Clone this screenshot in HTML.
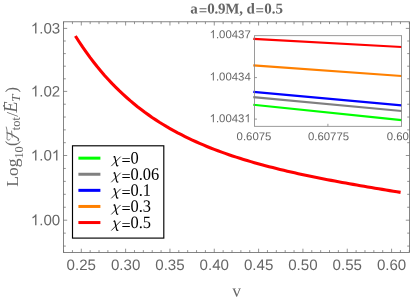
<!DOCTYPE html>
<html><head><meta charset="utf-8"><title>plot</title><style>html,body{margin:0;padding:0;background:#fff}body{width:415px;height:301px;overflow:hidden;position:relative;font-family:"Liberation Sans",sans-serif}</style></head><body>
<svg width="415" height="301" viewBox="0 0 415 301" style="position:absolute;left:0;top:0;will-change:transform">
<rect width="415" height="301" fill="#fff"/>
<path d="M75.4,36.02 L79.1,41.72 L82.7,47.18 L86.4,52.41 L90.0,57.42 L93.7,62.21 L97.3,66.81 L101.0,71.22 L104.6,75.44 L108.3,79.50 L111.9,83.39 L115.6,87.13 L119.2,90.72 L122.9,94.17 L126.6,97.48 L130.2,100.67 L133.9,103.73 L137.5,106.68 L141.2,109.52 L144.8,112.25 L148.5,114.88 L152.1,117.42 L155.8,119.86 L159.4,122.22 L163.1,124.49 L166.7,126.68 L170.4,128.80 L174.1,130.84 L177.7,132.82 L181.4,134.73 L185.0,136.57 L188.7,138.36 L192.3,140.08 L196.0,141.76 L199.6,143.37 L203.3,144.94 L206.9,146.46 L210.6,147.94 L214.2,149.37 L217.9,150.75 L221.6,152.10 L225.2,153.41 L228.9,154.68 L232.5,155.92 L236.2,157.12 L239.8,158.29 L243.5,159.43 L247.1,160.54 L250.8,161.62 L254.4,162.68 L258.1,163.71 L261.8,164.71 L265.4,165.70 L269.1,166.66 L272.7,167.59 L276.4,168.51 L280.0,169.41 L283.7,170.29 L287.3,171.15 L291.0,172.00 L294.6,172.82 L298.3,173.64 L301.9,174.43 L305.6,175.22 L309.3,175.99 L312.9,176.75 L316.6,177.49 L320.2,178.23 L323.9,178.95 L327.5,179.66 L331.2,180.37 L334.8,181.06 L338.5,181.74 L342.1,182.42 L345.8,183.09 L349.4,183.75 L353.1,184.40 L356.8,185.05 L360.4,185.68 L364.1,186.32 L367.7,186.94 L371.4,187.57 L375.0,188.18 L378.7,188.80 L382.3,189.40 L386.0,190.01 L389.6,190.60 L393.3,191.20 L396.9,191.79 L400.6,192.38" fill="none" stroke="#f00" stroke-width="3.1" stroke-linejoin="round"/>
<rect x="63.5" y="21.8" width="346.0" height="230.6" fill="none" stroke="#666" stroke-width="0.8"/>
<path d="M63.57,252.4v-2.3M63.57,21.8v2.3M72.44,252.4v-2.3M72.44,21.8v2.3M81.30,252.4v-3.7M81.30,21.8v3.7M90.16,252.4v-2.3M90.16,21.8v2.3M99.03,252.4v-2.3M99.03,21.8v2.3M107.89,252.4v-2.3M107.89,21.8v2.3M116.76,252.4v-2.3M116.76,21.8v2.3M125.62,252.4v-3.7M125.62,21.8v3.7M134.49,252.4v-2.3M134.49,21.8v2.3M143.35,252.4v-2.3M143.35,21.8v2.3M152.22,252.4v-2.3M152.22,21.8v2.3M161.08,252.4v-2.3M161.08,21.8v2.3M169.95,252.4v-3.7M169.95,21.8v3.7M178.81,252.4v-2.3M178.81,21.8v2.3M187.68,252.4v-2.3M187.68,21.8v2.3M196.55,252.4v-2.3M196.55,21.8v2.3M205.41,252.4v-2.3M205.41,21.8v2.3M214.27,252.4v-3.7M214.27,21.8v3.7M223.14,252.4v-2.3M223.14,21.8v2.3M232.00,252.4v-2.3M232.00,21.8v2.3M240.87,252.4v-2.3M240.87,21.8v2.3M249.74,252.4v-2.3M249.74,21.8v2.3M258.60,252.4v-3.7M258.60,21.8v3.7M267.46,252.4v-2.3M267.46,21.8v2.3M276.33,252.4v-2.3M276.33,21.8v2.3M285.19,252.4v-2.3M285.19,21.8v2.3M294.06,252.4v-2.3M294.06,21.8v2.3M302.93,252.4v-3.7M302.93,21.8v3.7M311.79,252.4v-2.3M311.79,21.8v2.3M320.66,252.4v-2.3M320.66,21.8v2.3M329.52,252.4v-2.3M329.52,21.8v2.3M338.38,252.4v-2.3M338.38,21.8v2.3M347.25,252.4v-3.7M347.25,21.8v3.7M356.12,252.4v-2.3M356.12,21.8v2.3M364.98,252.4v-2.3M364.98,21.8v2.3M373.85,252.4v-2.3M373.85,21.8v2.3M382.71,252.4v-2.3M382.71,21.8v2.3M391.58,252.4v-3.7M391.58,21.8v3.7M400.44,252.4v-2.3M400.44,21.8v2.3M409.31,252.4v-2.3M409.31,21.8v2.3M63.5,28.40h3.7M409.5,28.40h-3.7M63.5,41.00h2.3M409.5,41.00h-2.3M63.5,53.60h2.3M409.5,53.60h-2.3M63.5,66.20h2.3M409.5,66.20h-2.3M63.5,78.80h2.3M409.5,78.80h-2.3M63.5,91.40h3.7M409.5,91.40h-3.7M63.5,104.22h2.3M409.5,104.22h-2.3M63.5,117.04h2.3M409.5,117.04h-2.3M63.5,129.86h2.3M409.5,129.86h-2.3M63.5,142.68h2.3M409.5,142.68h-2.3M63.5,155.50h3.7M409.5,155.50h-3.7M63.5,168.44h2.3M409.5,168.44h-2.3M63.5,181.38h2.3M409.5,181.38h-2.3M63.5,194.32h2.3M409.5,194.32h-2.3M63.5,207.26h2.3M409.5,207.26h-2.3M63.5,220.20h3.7M409.5,220.20h-3.7M63.5,233.14h2.3M409.5,233.14h-2.3M63.5,246.08h2.3M409.5,246.08h-2.3" fill="none" stroke="#666" stroke-width="0.7"/>
<text transform="translate(66.61,270.00) rotate(0.03)" font-family="Liberation Sans, sans-serif" font-size="15.1" fill="#666">0.25</text>
<text transform="translate(110.93,270.00) rotate(0.03)" font-family="Liberation Sans, sans-serif" font-size="15.1" fill="#666">0.30</text>
<text transform="translate(155.26,270.00) rotate(0.03)" font-family="Liberation Sans, sans-serif" font-size="15.1" fill="#666">0.35</text>
<text transform="translate(199.58,270.00) rotate(0.03)" font-family="Liberation Sans, sans-serif" font-size="15.1" fill="#666">0.40</text>
<text transform="translate(243.91,270.00) rotate(0.03)" font-family="Liberation Sans, sans-serif" font-size="15.1" fill="#666">0.45</text>
<text transform="translate(288.23,270.00) rotate(0.03)" font-family="Liberation Sans, sans-serif" font-size="15.1" fill="#666">0.50</text>
<text transform="translate(332.56,270.00) rotate(0.03)" font-family="Liberation Sans, sans-serif" font-size="15.1" fill="#666">0.55</text>
<text transform="translate(376.88,270.00) rotate(0.03)" font-family="Liberation Sans, sans-serif" font-size="15.1" fill="#666">0.60</text>
<path transform="translate(30.82,33.40) scale(0.007373,-0.007373)" d="M763,0L583,0L583,1147Q518,1085 412.5,1023Q307,961 223,930L223,1104Q374,1175 487,1276Q600,1377 647,1472L763,1472Z" fill="#666"/><text transform="translate(39.21,33.40) rotate(0.03)" font-family="Liberation Sans, sans-serif" font-size="15.1" fill="#666">.03</text>
<path transform="translate(30.82,96.40) scale(0.007373,-0.007373)" d="M763,0L583,0L583,1147Q518,1085 412.5,1023Q307,961 223,930L223,1104Q374,1175 487,1276Q600,1377 647,1472L763,1472Z" fill="#666"/><text transform="translate(39.21,96.40) rotate(0.03)" font-family="Liberation Sans, sans-serif" font-size="15.1" fill="#666">.02</text>
<path transform="translate(30.82,160.50) scale(0.007373,-0.007373)" d="M763,0L583,0L583,1147Q518,1085 412.5,1023Q307,961 223,930L223,1104Q374,1175 487,1276Q600,1377 647,1472L763,1472Z" fill="#666"/><text transform="translate(39.21,160.50) rotate(0.03)" font-family="Liberation Sans, sans-serif" font-size="15.1" fill="#666">.0</text><path transform="translate(51.80,160.50) scale(0.007373,-0.007373)" d="M763,0L583,0L583,1147Q518,1085 412.5,1023Q307,961 223,930L223,1104Q374,1175 487,1276Q600,1377 647,1472L763,1472Z" fill="#666"/>
<path transform="translate(30.82,225.20) scale(0.007373,-0.007373)" d="M763,0L583,0L583,1147Q518,1085 412.5,1023Q307,961 223,930L223,1104Q374,1175 487,1276Q600,1377 647,1472L763,1472Z" fill="#666"/><text transform="translate(39.21,225.20) rotate(0.03)" font-family="Liberation Sans, sans-serif" font-size="15.1" fill="#666">.00</text>
<g font-family="Liberation Serif, serif" font-weight="bold" font-size="15" fill="#666">
<text transform="translate(190.35,13.5) rotate(0.03)">a</text>
<text transform="translate(198.8,15.2) rotate(0.03)">=</text>
<text transform="translate(207.15,13.5) rotate(0.03)" letter-spacing="-0.18">0.9M,</text>
<text transform="translate(246.5,13.5) rotate(0.03)">d</text>
<text transform="translate(255.6,15.2) rotate(0.03)">=</text>
<text transform="translate(264.15,13.5) rotate(0.03)">0.5</text>
</g>
<text transform="translate(236.5,296.6) rotate(0.03)" font-family="Liberation Serif, serif" font-size="17.5" fill="#666" text-anchor="middle">v</text>
<g transform="translate(0,189) rotate(-90)" fill="#666" font-family="Liberation Serif, serif">
<text x="2.2" y="18" font-size="17.5">Log</text>
<text x="30.4" y="22.7" font-size="12.4">10</text>
<text x="43.1" y="17.3" font-size="16.2">(</text>
<path d="M62,6.3 C58,7.6 53,7.2 50.2,7 C48.6,7 48.4,9 49.8,10.2" fill="none" stroke="#666" stroke-width="0.8" stroke-linecap="round"/>
<path d="M56.2,7 C55.8,11 53.5,13 52,16 C51,18 49.8,19.2 48.4,18.2" fill="none" stroke="#666" stroke-width="1.3" stroke-linecap="round"/>
<path d="M51.8,12.2 L58,11.6" fill="none" stroke="#666" stroke-width="0.8" stroke-linecap="round"/>
<text x="58.8" y="20" font-size="12.4">tot</text>
<text x="72.2" y="17.6" font-size="17.5">/</text>
<text x="76.5" y="17.3" font-size="18" font-style="italic">E</text>
<circle cx="83.2" cy="3.9" r="0.9" fill="#666"/>
<text x="87.2" y="19.9" font-size="13" font-style="italic">T</text>
<text x="96.6" y="17.3" font-size="16.2">)</text>
</g>
<rect x="254.5" y="35.7" width="147.10000000000002" height="90.6" fill="#fff" stroke="none"/>
<line x1="253.3" y1="104.78" x2="401.6" y2="120.2" stroke="#0f0" stroke-width="2.2"/>
<line x1="253.3" y1="97.09" x2="401.6" y2="111.0" stroke="#808080" stroke-width="2.2"/>
<line x1="253.3" y1="91.79" x2="401.6" y2="105.3" stroke="#00f" stroke-width="2.2"/>
<line x1="253.3" y1="65.41" x2="401.6" y2="76.0" stroke="#ff8000" stroke-width="2.2"/>
<line x1="253.3" y1="38.83" x2="401.6" y2="47.0" stroke="#f00" stroke-width="2.2"/>
<rect x="254.5" y="35.7" width="147.10000000000002" height="90.6" fill="none" stroke="#828282" stroke-width="0.8"/>
<path d="M254.5,77.6h2.5M254.5,119.1h2.5M327.9,126.3v-2.5" fill="none" stroke="#828282" stroke-width="0.8"/>
<path transform="translate(209.60,38.30) scale(0.005566,-0.005566)" d="M763,0L583,0L583,1147Q518,1085 412.5,1023Q307,961 223,930L223,1104Q374,1175 487,1276Q600,1377 647,1472L763,1472Z" fill="#666"/><text transform="translate(215.94,38.30) rotate(0.03)" font-family="Liberation Sans, sans-serif" font-size="11.4" fill="#666">.00437</text>
<path transform="translate(209.60,80.50) scale(0.005566,-0.005566)" d="M763,0L583,0L583,1147Q518,1085 412.5,1023Q307,961 223,930L223,1104Q374,1175 487,1276Q600,1377 647,1472L763,1472Z" fill="#666"/><text transform="translate(215.94,80.50) rotate(0.03)" font-family="Liberation Sans, sans-serif" font-size="11.4" fill="#666">.00434</text>
<path transform="translate(209.60,122.20) scale(0.005566,-0.005566)" d="M763,0L583,0L583,1147Q518,1085 412.5,1023Q307,961 223,930L223,1104Q374,1175 487,1276Q600,1377 647,1472L763,1472Z" fill="#666"/><text transform="translate(215.94,122.20) rotate(0.03)" font-family="Liberation Sans, sans-serif" font-size="11.4" fill="#666">.0043</text><path transform="translate(244.46,122.20) scale(0.005566,-0.005566)" d="M763,0L583,0L583,1147Q518,1085 412.5,1023Q307,961 223,930L223,1104Q374,1175 487,1276Q600,1377 647,1472L763,1472Z" fill="#666"/>
<text transform="translate(236.57,140.30) rotate(0.03)" font-family="Liberation Sans, sans-serif" font-size="11.4" fill="#666">0.6075</text>
<text transform="translate(307.90,140.30) rotate(0.03)" font-family="Liberation Sans, sans-serif" font-size="11.4" fill="#666">0.60775</text>
<text transform="translate(386.70,140.30) rotate(0.03)" font-family="Liberation Sans, sans-serif" font-size="11.4" fill="#666">0.60</text>
<rect x="72.5" y="145.8" width="91.30000000000001" height="92.29999999999998" fill="#fff" stroke="#000" stroke-width="1.15"/>
<line x1="78.4" y1="158.15" x2="100.4" y2="158.15" stroke="#0f0" stroke-width="3"/>
<g transform="translate(111,163.55)"><path d="M0.3,2.6 L9.6,-6.9" fill="none" stroke="#000" stroke-width="0.8"/><path d="M2.9,-6.2 C3.0,-7.0 3.5,-7.4 3.8,-6.6 L5.7,1.8 C5.9,2.6 6.6,2.7 7.2,1.9" fill="none" stroke="#000" stroke-width="1.2"/></g>
<text transform="translate(121.5,166.15) scale(0.94,1)" font-family="Liberation Serif, serif" font-size="17.3" fill="#000">=</text>
<text transform="translate(130.5,163.55) rotate(0.03) scale(0.95,1)" font-family="Liberation Serif, serif" font-size="17.3" fill="#000">0</text>
<line x1="78.4" y1="174.25" x2="100.4" y2="174.25" stroke="#808080" stroke-width="3"/>
<g transform="translate(111,179.65)"><path d="M0.3,2.6 L9.6,-6.9" fill="none" stroke="#000" stroke-width="0.8"/><path d="M2.9,-6.2 C3.0,-7.0 3.5,-7.4 3.8,-6.6 L5.7,1.8 C5.9,2.6 6.6,2.7 7.2,1.9" fill="none" stroke="#000" stroke-width="1.2"/></g>
<text transform="translate(121.5,182.25) scale(0.94,1)" font-family="Liberation Serif, serif" font-size="17.3" fill="#000">=</text>
<text transform="translate(130.5,179.65) rotate(0.03) scale(0.95,1)" font-family="Liberation Serif, serif" font-size="17.3" fill="#000">0.06</text>
<line x1="78.4" y1="190.35000000000002" x2="100.4" y2="190.35000000000002" stroke="#00f" stroke-width="3"/>
<g transform="translate(111,195.75)"><path d="M0.3,2.6 L9.6,-6.9" fill="none" stroke="#000" stroke-width="0.8"/><path d="M2.9,-6.2 C3.0,-7.0 3.5,-7.4 3.8,-6.6 L5.7,1.8 C5.9,2.6 6.6,2.7 7.2,1.9" fill="none" stroke="#000" stroke-width="1.2"/></g>
<text transform="translate(121.5,198.35) scale(0.94,1)" font-family="Liberation Serif, serif" font-size="17.3" fill="#000">=</text>
<text transform="translate(130.5,195.75) rotate(0.03) scale(0.95,1)" font-family="Liberation Serif, serif" font-size="17.3" fill="#000">0.1</text>
<line x1="78.4" y1="206.45000000000002" x2="100.4" y2="206.45000000000002" stroke="#ff8000" stroke-width="3"/>
<g transform="translate(111,211.85)"><path d="M0.3,2.6 L9.6,-6.9" fill="none" stroke="#000" stroke-width="0.8"/><path d="M2.9,-6.2 C3.0,-7.0 3.5,-7.4 3.8,-6.6 L5.7,1.8 C5.9,2.6 6.6,2.7 7.2,1.9" fill="none" stroke="#000" stroke-width="1.2"/></g>
<text transform="translate(121.5,214.45) scale(0.94,1)" font-family="Liberation Serif, serif" font-size="17.3" fill="#000">=</text>
<text transform="translate(130.5,211.85) rotate(0.03) scale(0.95,1)" font-family="Liberation Serif, serif" font-size="17.3" fill="#000">0.3</text>
<line x1="78.4" y1="222.55" x2="100.4" y2="222.55" stroke="#f00" stroke-width="3"/>
<g transform="translate(111,227.95)"><path d="M0.3,2.6 L9.6,-6.9" fill="none" stroke="#000" stroke-width="0.8"/><path d="M2.9,-6.2 C3.0,-7.0 3.5,-7.4 3.8,-6.6 L5.7,1.8 C5.9,2.6 6.6,2.7 7.2,1.9" fill="none" stroke="#000" stroke-width="1.2"/></g>
<text transform="translate(121.5,230.55) scale(0.94,1)" font-family="Liberation Serif, serif" font-size="17.3" fill="#000">=</text>
<text transform="translate(130.5,227.95) rotate(0.03) scale(0.95,1)" font-family="Liberation Serif, serif" font-size="17.3" fill="#000">0.5</text>
</svg>
</body></html>
